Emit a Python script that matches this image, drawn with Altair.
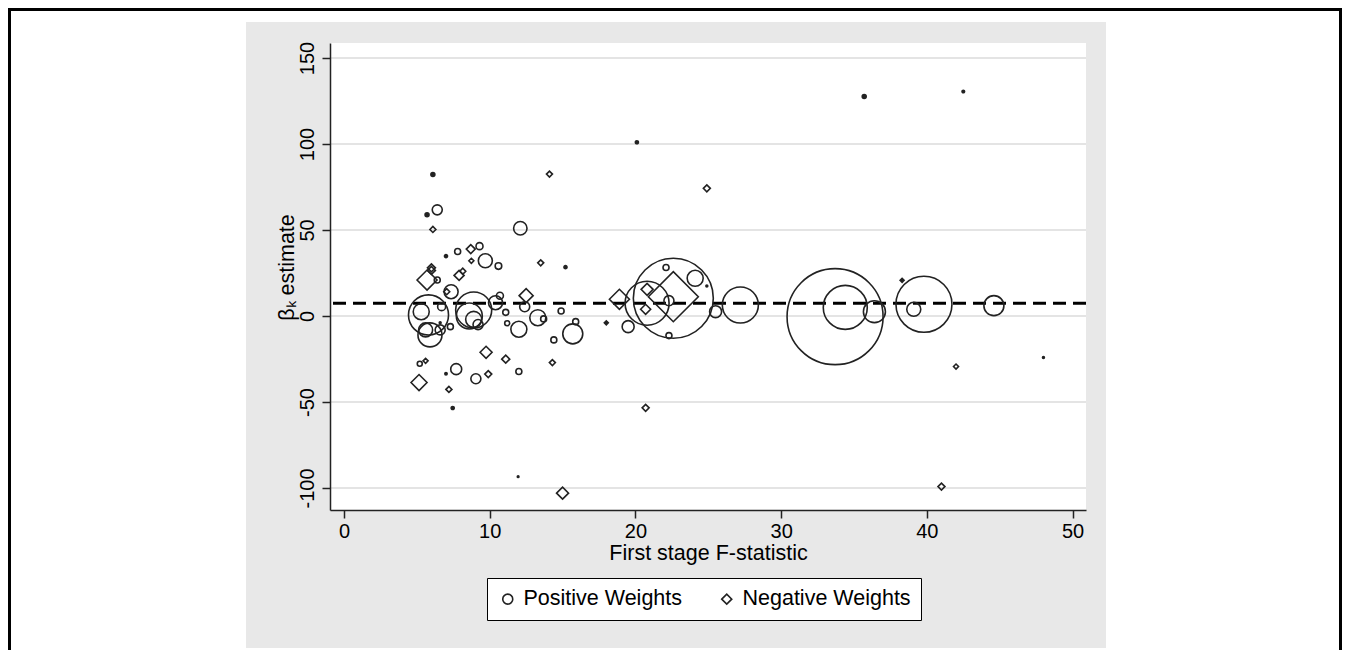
import altair as alt
import pandas as pd

# ---- data ----
# Positive-weight instruments (circles): first-stage F, beta estimate, weight
pos_F = [6.1, 5.7, 6.4, 12.1, 9.3, 7.8, 7.0, 9.7, 10.6, 15.2, 6.4, 7.35, 10.7, 10.4,
         5.8, 5.3, 5.6, 5.9, 6.7, 6.6, 7.3, 8.9, 8.6, 8.9, 9.2, 12.4, 11.1, 13.3,
         13.7, 14.9, 12.0, 11.2, 15.9, 15.7, 14.4, 5.2, 7.7, 7.0, 9.05, 12.0, 7.46,
         22.1, 24.1, 24.9, 20.8, 22.6, 22.3, 25.5, 27.2, 22.3, 19.5, 33.7, 34.4,
         36.4, 39.8, 39.1, 44.6, 48.0, 35.7, 42.5, 11.95, 20.1, 6.6]
pos_beta = [82.2, 58.8, 61.7, 51.0, 40.6, 37.5, 34.8, 32.1, 29.0, 28.4, 20.9, 14.1, 11.8, 7.7,
            0.6, 2.5, -8.1, -11.0, 5.4, -8.1, -6.2, 3.5, 0.0, -2.0, -5.0, 5.4, 2.1, -1.0,
            -1.7, 2.9, -7.7, -4.2, -3.3, -10.4, -13.9, -27.8, -30.9, -33.6, -36.5, -32.3, -53.5,
            28.2, 21.9, 17.4, 7.4, 10.3, 8.9, 2.5, 6.4, -11.4, -6.2, -0.4, 5.0,
            2.5, 6.8, 3.9, 6.0, -24.2, 127.6, 130.5, -93.4, 101.0, -3.9]
pos_w = [0.17, 0.17, 1.09, 1.95, 0.53, 0.39, 0.10, 2.13, 0.47, 0.10, 0.39, 2.13, 0.53, 2.13,
         17.4, 2.78, 2.13, 6.25, 0.69, 1.09, 0.39, 14.1, 7.33, 2.78, 1.09, 1.09, 0.39, 2.78,
         0.39, 0.39, 2.78, 0.27, 0.39, 4.34, 0.39, 0.27, 1.31, 0.06, 1.09, 0.39, 0.10,
         0.39, 2.78, 0.04, 21.0, 69.4, 1.09, 1.56, 14.1, 0.39, 1.56, 100.0, 21.0,
         5.25, 34.0, 2.13, 4.34, 0.04, 0.17, 0.07, 0.03, 0.10, 0.04]

# Negative-weight instruments (diamonds)
neg_F = [14.1, 6.1, 8.7, 13.5, 6.0, 6.0, 8.15, 7.9, 5.7, 7.05, 12.5, 9.75, 11.1, 14.3,
         5.6, 9.9, 5.15, 7.2, 24.9, 18.9, 22.6, 20.8, 20.7, 18.0, 38.3, 42.0, 15.0,
         41.0, 20.7, 8.74]
neg_beta = [82.5, 50.3, 38.9, 30.9, 28.0, 26.5, 26.0, 23.6, 20.9, 14.1, 11.8, -21.1, -25.1, -27.1,
            -26.1, -33.8, -38.7, -42.7, 74.2, 9.7, 11.2, 15.5, 3.9, -4.0, 20.7, -29.4, -103.0,
            -99.2, -53.4, 32.1]
neg_w = [0.39, 0.39, 0.88, 0.39, 0.69, 0.69, 0.39, 1.09, 4.34, 0.39, 2.13, 1.56, 0.69, 0.39,
         0.27, 0.53, 2.78, 0.39, 0.53, 4.34, 27.1, 1.56, 1.09, 0.17, 0.17, 0.27, 1.56,
         0.53, 0.53, 0.27]

legend_labels = ["Positive Weights", "Negative Weights"]
x_ticks = [0, 10, 20, 30, 40, 50]
y_ticks = [-100, -50, 0, 50, 100, 150]
mean_beta = 7.4

# ---- layout ----
W, H = 756, 467
FONT = "Liberation Sans"
INK = "#222222"

points = pd.DataFrame({
    "F": pos_F + neg_F,
    "beta": pos_beta + neg_beta,
    "w": pos_w + neg_w,
    "group": [legend_labels[0]] * len(pos_F) + [legend_labels[1]] * len(neg_F),
})

xscale = alt.Scale(domain=[-0.96, 50.92], nice=False, zero=False)
yscale = alt.Scale(domain=[-112.8, 158.7], nice=False, zero=False)

axis_common = dict(
    grid=False, domainColor=INK, domainWidth=1.5, tickColor=INK,
    tickWidth=1.5, tickSize=8, labelFont=FONT, labelFontSize=20, labelColor="black",
    labelFlush=False, labelOverlap=False, titleFont=FONT, titleFontSize=21.5,
    titleFontWeight="normal", titleColor="black", zindex=1,
    labelExpr="'' + datum.value",
)
xaxis = alt.Axis(values=x_ticks, title="First stage F-statistic",
                 labelPadding=3, titleX=W / 2, titleY=49.5,
                 titleBaseline="alphabetic", titleAlign="center", **axis_common)
yaxis = alt.Axis(values=y_ticks, title="βₖ estimate",
                 labelAngle=270, labelAlign="center",
                 labelBaseline="alphabetic", labelPadding=9,
                 titleAngle=270, titleX=-37, titleY=224,
                 titleBaseline="alphabetic", titleAlign="center", **axis_common)

one = pd.DataFrame({"k": [0]})

border = alt.Chart(one).mark_rule(color="black", strokeWidth=3)
b_left = border.encode(x=alt.value(-320.5), y=alt.value(-35), y2=alt.value(607))
b_top = border.encode(y=alt.value(-33.5), x=alt.value(-322), x2=alt.value(1012))
b_right = border.encode(x=alt.value(1010.5), y=alt.value(-35), y2=alt.value(607))

panel = alt.Chart(one).mark_rect(color="#e8e8e8").encode(
    x=alt.value(-84), x2=alt.value(776), y=alt.value(-21), y2=alt.value(605))
plotbg = alt.Chart(one).mark_rect(color="white").encode(
    x=alt.value(0), x2=alt.value(W), y=alt.value(0), y2=alt.value(H))

grid = alt.Chart(pd.DataFrame({"beta": y_ticks})).mark_rule(
    color="#e4e4e4", strokeWidth=2).encode(
    y=alt.Y("beta:Q", scale=yscale, axis=yaxis))

meanline = alt.Chart(pd.DataFrame({"beta": [mean_beta]})).mark_rule(
    color="black", strokeWidth=3, strokeDash=[13, 7]).encode(
    y=alt.Y("beta:Q", scale=yscale, axis=yaxis))

pts = alt.Chart(points).mark_point(
    filled=False, strokeWidth=1.6, color=INK, opacity=1).encode(
    x=alt.X("F:Q", scale=xscale, axis=xaxis),
    y=alt.Y("beta:Q", scale=yscale, axis=yaxis),
    fill=alt.condition(alt.datum.w <= 0.2, alt.value(INK), alt.value("transparent")),
    size=alt.Size("w:Q", scale=alt.Scale(type="linear", domain=[0, 100],
                                         range=[0, 9216], zero=True), legend=None),
    shape=alt.Shape("group:N",
                    scale=alt.Scale(domain=legend_labels, range=["circle", "diamond"]),
                    legend=alt.Legend(title=None, orient="none", legendX=157, legendY=535,
                                      direction="horizontal", strokeColor="black",
                                      fillColor="white", padding=10,
                                      labelFont=FONT, labelFontSize=21.5,
                                      labelColor="black", labelOffset=5,
                                      columnPadding=33, symbolSize=100,
                                      symbolStrokeColor=INK,
                                      symbolStrokeWidth=1.6,
                                      symbolFillColor="white", labelLimit=400,
                                      zindex=1)),
)

chart = alt.layer(b_left, b_top, b_right, panel, plotbg, grid, meanline, pts).properties(
    width=W, height=H,
    autosize=alt.AutoSizeParams(type="none"),
    padding={"left": 322, "top": 35, "right": 256, "bottom": 140},
).configure(background="white").configure_view(stroke=None)

chart.save("out.html", embed_options={"renderer": "svg", "actions": False})
